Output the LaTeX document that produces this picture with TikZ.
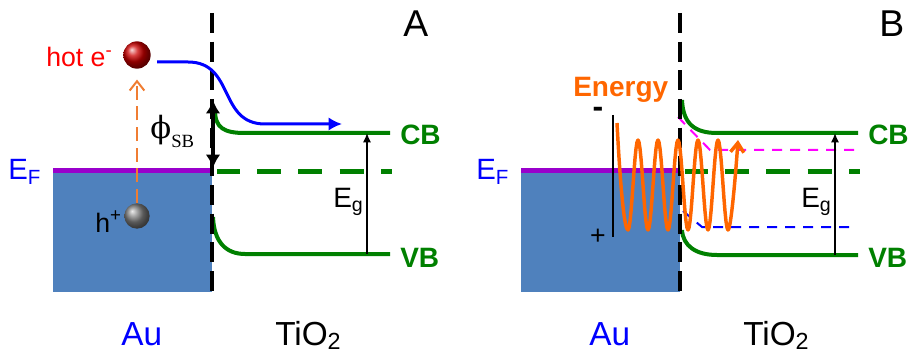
\documentclass[tikz,border=0pt]{standalone}
\usepackage{fontspec}
\setmainfont{Liberation Sans}
\newfontfamily\timesf{Liberation Serif}
\newfontfamily\phif{DejaVu Serif}
\usetikzlibrary{arrows.meta}
\definecolor{aublue}{RGB}{79,129,189}
\definecolor{efpurple}{RGB}{153,0,204}
\definecolor{bandgreen}{RGB}{0,128,0}
\definecolor{engorange}{RGB}{255,102,0}
\definecolor{arrorange}{RGB}{240,125,50}
\definecolor{pureblue}{RGB}{0,0,255}
\definecolor{purered}{RGB}{255,0,0}
\definecolor{puremag}{RGB}{255,0,255}
\tikzset{
  fs/.style={font=\fontsize{#1}{#1}\selectfont},
  txt/.style={inner sep=0pt, anchor=base west},
  metal/.style={fill=aublue, draw=none},
  fermilevel/.style={draw=efpurple, line width=3.75pt},
  fermidash/.style={draw=bandgreen, line width=3.75pt, dash pattern=on 18pt off 13pt, dash phase=1pt},
  bandline/.style={draw=bandgreen, line width=3pt},
  iface/.style={draw=black, line width=3pt, dash pattern=on 15pt off 6.5pt},
  gaparrow/.style={draw=black, line width=1.1pt, -{Latex[length=7pt,width=6pt]}},
  bandlbl/.style={txt, font=\fontsize{21}{21}\selectfont\bfseries, text=bandgreen},
  flowarrow/.style={draw=pureblue, line width=2.25pt, -{Latex[length=10pt,width=10pt]}},
  sbarrow/.style={draw=black, line width=2.5pt, {Latex[length=10pt,width=11pt]}-{Latex[length=10pt,width=11pt]}},
  excarrow/.style={draw=arrorange, line width=1.5pt, dash pattern=on 10.5pt off 5pt, -{Straight Barb[length=7pt,width=11pt]}},
  hotball/.style={circle, inner sep=0pt, minimum size=20.5pt, ball color=red!80!black},
  holeball/.style={circle, inner sep=0pt, minimum size=19pt, ball color=gray},
  level/.style={line width=1.5pt, dash pattern=on 7.5pt off 6pt},
  wave/.style={draw=engorange, line width=2.6pt, line join=round, -{Straight Barb[length=7pt,width=10pt]}},
  polarity/.style={draw=black, line width=1.5pt}
}
\begin{document}
\begin{tikzpicture}[x=0.75pt,y=-0.75pt]
\useasboundingbox (0,0) rectangle (909,356);

% ---------------- Panel A ----------------
\fill[metal] (53,170) rectangle (212,292);
\draw[fermilevel] (53,170.5) -- (212,170.5);
\draw[fermidash] (217,171) -- (392,171);
\draw[bandline] (215,110) .. controls (215,128) and (224,133) .. (245,133) -- (390,133) coordinate (cbA);
\draw[bandline] (213,217) .. controls (214,242) and (226,254) .. (245,254) -- (390,254) coordinate (vbA);
\coordinate (egtopA) at (367,133);
\coordinate (egbotA) at (367,254);
\draw[gaparrow] (egbotA) -- (egtopA);
\draw[iface] (212,13) -- (212,292);
\node[hotball] (hotA) at (137,55) {};
\node[holeball] (holeA) at (137,216) {};
\draw[excarrow, shorten >=8pt] (holeA) -- (hotA);
\coordinate (flowstart) at (157,62);
\coordinate (flowend) at (342,124);
\draw[flowarrow] (flowstart) -- (188,62) .. controls (235,62) and (218,124) .. (265,124) -- (flowend);
\coordinate (sbtop) at (213,100);
\coordinate (sbbot) at (213,168);
\draw[sbarrow] (sbtop) -- (sbbot);

\node[txt, fs=20, text=purered] (hotlbl) at (46,67) {hot e\textsuperscript{-}};
\node[txt, fs=20] (hlbl) at (95,232) {h\textsuperscript{+}};
\node[txt, fs=22, text=pureblue] (efA) at (8,180) {E\textsubscript{F}};
\node[bandlbl] (cblA) at (400,145) {CB};
\node[bandlbl] (vblA) at (400,267) {VB};
\node[txt, fs=21] (eglA) at (333,207) {E\textsubscript{g}};
\node[txt, fs=25, text=pureblue] (auA) at (121,345) {Au};
\node[txt, fs=25] (tiA) at (275,345) {TiO\textsubscript{2}};
\node[txt, fs=28] (pA) at (403,37) {A};
\node[txt, font=\phif\fontsize{23}{23}\selectfont] (phiA) at (150,139) {\symbol{"03D5}};
\node[txt, font=\timesf\fontsize{14}{14}\selectfont] (sbA) at (171,147) {SB};

% ---------------- Panel B ----------------
\fill[metal] (521,170) rectangle (680,292);
\draw[fermilevel] (521,170.5) -- (680,170.5);
\draw[fermidash] (685,171) -- (860,171);
\draw[bandline] (682,100) .. controls (683,124) and (695,133) .. (717,133) -- (858,133) coordinate (cbB);
\draw[bandline] (682,230) .. controls (683,246) and (696,255) .. (717,255) -- (858,255) coordinate (vbB);
\draw[level, draw=puremag] (678,117) -- (710,150) -- (855,150);
\draw[level, draw=pureblue] (683,211) -- (702,227) -- (855,227);
\coordinate (egtopB) at (835,133);
\coordinate (egbotB) at (835,255);
\draw[gaparrow] (egbotB) -- (egtopB);
\draw[iface] (680,13) -- (680,292);
\coordinate (poltop) at (613,115);
\coordinate (polbot) at (613,237);
\draw[polarity] (poltop) -- (polbot);
\node[font=\fontsize{12}{12}\selectfont\bfseries, inner sep=0pt] (minusB) at (598,112) {\scalebox{2}{-}};
\node[fs=20, inner sep=0pt] (plusB) at (598,237) {+};
\node[txt, font=\fontsize{21}{21}\selectfont\bfseries, text=engorange] (energy) at (573,97) {Energy};
\draw[wave] (617,123) .. controls (621,200) and (625,230) .. (628,230)
  -- plot[domain=628:728, samples=101] (\x, {185+45*cos(18*(\x-628))})
  .. controls (731,230) and (736,170) .. (738,140);

\node[txt, fs=22, text=pureblue] (efB) at (476,180) {E\textsubscript{F}};
\node[bandlbl] (cblB) at (868,145) {CB};
\node[bandlbl] (vblB) at (868,267) {VB};
\node[txt, fs=21] (eglB) at (801,207) {E\textsubscript{g}};
\node[txt, fs=25, text=pureblue] (auB) at (589,345) {Au};
\node[txt, fs=25] (tiB) at (743,345) {TiO\textsubscript{2}};
\node[txt, fs=28] (pB) at (879,37) {B};
\end{tikzpicture}
\end{document}
